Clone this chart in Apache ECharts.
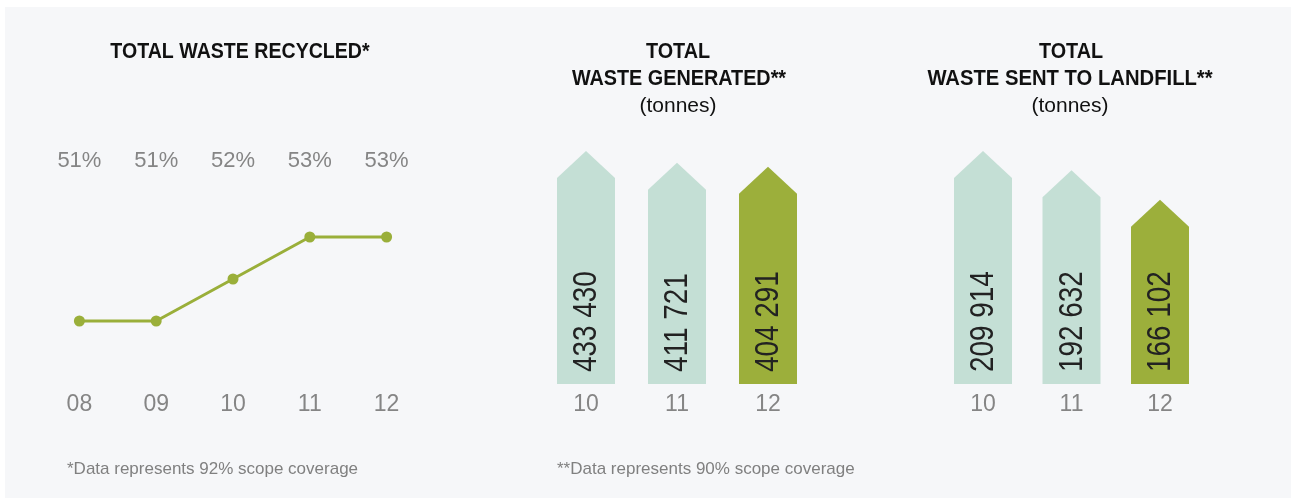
<!DOCTYPE html>
<html>
<head>
<meta charset="utf-8">
<script src="https://cdn.jsdelivr.net/npm/echarts@6/dist/echarts.min.js"></script>
<style>
  html, body { margin: 0; padding: 0; background: #ffffff; }
  #chart { width: 1295px; height: 502px; }
</style>
</head>
<body>
<div id="chart"></div>
<script>
// recycled share, per year
const recycledYears = ['08', '09', '10', '11', '12'];
const recycledPct = [51, 51, 52, 53, 53];
const recycledLabels = ['51%', '51%', '52%', '53%', '53%'];

// tonnes, per year
const barYears = ['10', '11', '12'];
const generated = [433430, 411721, 404291];
const landfill = [209914, 192632, 166102];

const LIGHT = '#c4dfd5';
const DARK = '#9caf3b';
const FONT = '"Liberation Sans", Arial, sans-serif';

const chart = echarts.init(document.getElementById('chart'));

const fmt = v => String(v).replace(/\B(?=(\d{3})+(?!\d))/g, ' ');

function arrowItem(params, api) {
  const i = api.value(0);
  const v = api.value(1);
  const tip = api.coord([i, v]);
  const base = api.coord([i, 0]);
  const half = 29, head = 27;
  return {
    type: 'group',
    children: [
      {
        type: 'polygon',
        shape: {
          points: [
            [tip[0] - half, base[1]],
            [tip[0] - half, tip[1] + head],
            [tip[0], tip[1]],
            [tip[0] + half, tip[1] + head],
            [tip[0] + half, base[1]]
          ]
        },
        style: { fill: api.visual('color') }
      },
      {
        type: 'text',
        x: tip[0] + 1,
        y: base[1] - 12,
        rotation: Math.PI / 2,
        scaleX: 0.82,
        style: {
          text: fmt(v),
          fill: '#222',
          font: '34px ' + FONT,
          align: 'left',
          verticalAlign: 'middle'
        }
      }
    ]
  };
}

const colorsFor = arr => arr.map((v, i) => ({
  value: [i, v],
  itemStyle: { color: i === arr.length - 1 ? DARK : LIGHT }
}));

const catAxis = (gridIndex, data) => ({
  type: 'category',
  gridIndex,
  data,
  boundaryGap: true,
  axisLine: { show: false },
  axisTick: { show: false },
  axisLabel: { color: '#858585', fontSize: 23, fontFamily: FONT, margin: 9 }
});

const titleText = (x, y, text, bold, size, sx) => ({
  type: 'text',
  x, y,
  scaleX: sx,
  style: {
    text,
    fill: '#111',
    font: (bold ? 'bold ' : '') + size + 'px ' + FONT,
    align: 'center',
    verticalAlign: 'middle'
  }
});

const options = {
  animation: false,
  backgroundColor: '#ffffff',
  graphic: [
    { type: 'rect', z: -10, shape: { x: 5, y: 7, width: 1286, height: 491 }, style: { fill: '#f6f7f9' } },
    titleText(240, 52, 'TOTAL WASTE RECYCLED*', true, 22, 0.89),
    titleText(678, 52, 'TOTAL', true, 22, 0.9),
    titleText(679, 79, 'WASTE GENERATED**', true, 22, 0.9),
    titleText(678, 106, '(tonnes)', false, 21, 1),
    titleText(1071, 52, 'TOTAL', true, 22, 0.9),
    titleText(1070, 79, 'WASTE SENT TO LANDFILL**', true, 22, 0.92),
    titleText(1070, 106, '(tonnes)', false, 21, 1),
    {
      type: 'text', x: 67, y: 469,
      style: { text: '*Data represents 92% scope coverage', fill: '#808080', font: '17px ' + FONT, verticalAlign: 'middle' }
    },
    {
      type: 'text', x: 557, y: 469,
      style: { text: '**Data represents 90% scope coverage', fill: '#808080', font: '17px ' + FONT, verticalAlign: 'middle' }
    }
  ],
  grid: [
    { left: 41, width: 384, top: 195, height: 168 },
    { left: 540.5, width: 273, top: 104.5, bottom: 118 },
    { left: 938.75, width: 265.5, top: 95.4, bottom: 118 }
  ],
  xAxis: [
    Object.assign(catAxis(0, recycledYears), { axisLabel: { color: '#858585', fontSize: 23, fontFamily: FONT, margin: 30 } }),
    {
      type: 'category',
      gridIndex: 0,
      position: 'top',
      data: recycledLabels,
      axisLine: { show: false },
      axisTick: { show: false },
      axisLabel: { color: '#858585', fontSize: 22, fontFamily: FONT, margin: 23 }
    },
    catAxis(1, barYears),
    catAxis(2, barYears)
  ],
  yAxis: [
    { type: 'value', gridIndex: 0, min: 50, max: 54, show: false },
    { type: 'value', gridIndex: 1, min: 0, max: 520000, show: false },
    { type: 'value', gridIndex: 2, min: 0, max: 260000, show: false }
  ],
  series: [
    {
      type: 'line',
      xAxisIndex: 0,
      yAxisIndex: 0,
      data: recycledPct,
      symbol: 'circle',
      symbolSize: 11,
      color: '#9aaf3a',
      lineStyle: { width: 3, color: '#9aaf3a' },
      itemStyle: { color: '#9aaf3a' }
    },
    {
      type: 'custom',
      xAxisIndex: 2,
      yAxisIndex: 1,
      renderItem: arrowItem,
      encode: { x: 0, y: 1 },
      data: colorsFor(generated)
    },
    {
      type: 'custom',
      xAxisIndex: 3,
      yAxisIndex: 2,
      renderItem: arrowItem,
      encode: { x: 0, y: 1 },
      data: colorsFor(landfill)
    }
  ]
};

chart.setOption(options);
</script>
</body>
</html>
